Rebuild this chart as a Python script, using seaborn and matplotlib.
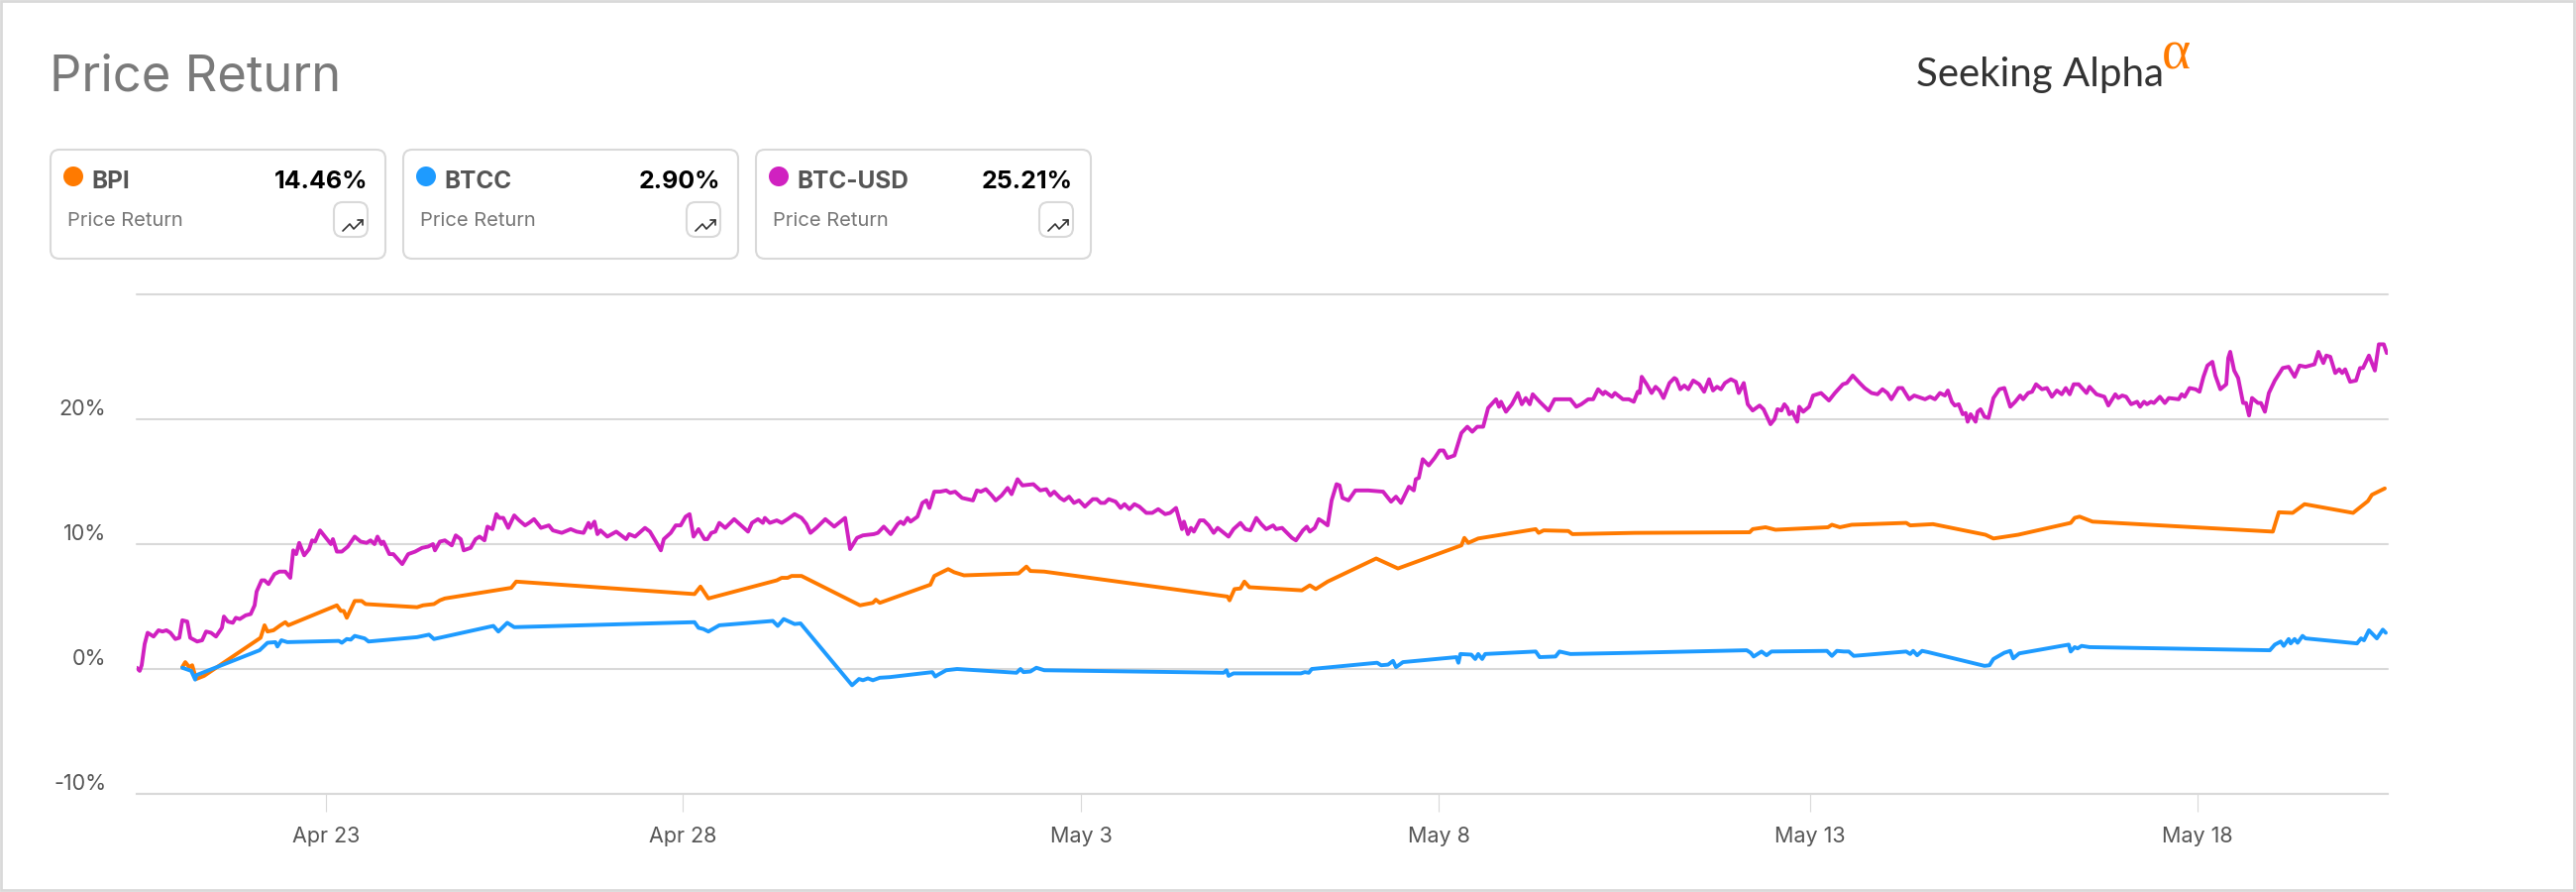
import matplotlib
matplotlib.use("Agg")
import matplotlib.pyplot as plt
from matplotlib.patches import FancyBboxPatch, Circle, Rectangle
from matplotlib.transforms import ScaledTranslation
import pandas as pd
import seaborn as sns

# --------------------- Data ---------------------
# x is a session scale, the chart squeezes some calendar days
TICK_POS = [19.1, 55.1, 95.3, 131.4, 168.9, 208.0]
TICK_LABELS = ["Apr 23", "Apr 28", "May 3", "May 8", "May 13", "May 18"]
Y_TICKS = [-10, 0, 10, 20, 30]
Y_LABELS = ["-10%", "0%", "10%", "20%", ""]

btc_t = [0.0, 0.3, 0.5, 0.8, 1.1, 1.7, 2.2, 2.6, 3.0, 3.4, 3.9, 4.3, 4.6, 5.1, 5.4, 6.1, 6.6, 7.0, 7.5, 8.0,
         8.6, 8.8, 9.2, 9.7, 10.0, 10.4, 11.0, 11.5, 11.9, 12.1, 12.6, 12.9, 13.3, 13.9, 14.4, 15.0, 15.5, 15.8, 16.1, 16.4,
         16.9, 17.4, 17.7, 18.0, 18.5, 19.2, 19.6, 19.8, 20.2, 20.7, 21.3, 22.0, 22.6, 23.2, 23.6, 24.0, 24.3, 24.7, 24.9, 25.5,
         25.9, 26.8, 27.4, 28.1, 28.8, 29.4, 29.9, 30.1, 30.6, 31.1, 31.8, 32.2, 32.7, 33.0, 33.7, 34.2, 34.6, 35.1, 35.4, 35.9,
         36.3, 36.6, 37.0, 37.5, 38.1, 38.6, 39.2, 39.6, 40.1, 40.8, 41.6, 42.0, 42.9, 43.8, 44.4, 45.1, 45.6, 45.8, 46.2, 46.5,
         46.8, 47.5, 48.4, 49.4, 49.7, 50.3, 51.3, 51.8, 52.4, 52.9, 53.2, 53.9, 54.4, 54.9, 55.4, 55.8, 56.2, 56.7, 57.3, 57.6,
         58.0, 58.4, 58.8, 59.4, 60.3, 61.0, 61.7, 62.1, 62.7, 63.2, 63.4, 63.9, 64.6, 65.1, 65.7, 66.4, 67.1, 67.6, 68.0, 68.6,
         69.5, 70.4, 71.5, 72.0, 72.7, 73.3, 74.4, 74.8, 75.4, 76.1, 76.8, 77.1, 77.4, 77.8, 78.1, 78.8, 79.3, 79.7, 80.0, 80.5,
         81.1, 81.7, 82.1, 82.6, 83.3, 84.4, 84.8, 85.2, 85.7, 86.3, 86.7, 87.3, 87.9, 88.3, 88.9, 89.4, 90.5, 91.2, 91.8, 92.2,
         92.6, 93.2, 93.6, 94.1, 94.6, 95.1, 95.7, 96.5, 96.9, 97.3, 97.7, 98.1, 98.8, 99.3, 99.7, 100.2, 100.7, 101.2, 101.9, 102.5,
         103.1, 103.8, 104.3, 104.9, 105.5, 105.7, 106.1, 106.4, 106.7, 107.3, 107.7, 108.2, 108.7, 109.1, 110.2, 110.7, 111.4, 111.9, 112.4, 113.0,
         113.5, 114.0, 114.7, 115.0, 115.6, 116.6, 117.0, 117.7, 118.1, 118.4, 118.9, 119.3, 119.7, 120.2, 120.6, 121.1, 121.4, 121.7, 122.3, 123.0,
         124.3, 125.8, 126.6, 127.1, 127.6, 128.4, 128.9, 129.1, 129.4, 129.8, 130.4, 131.0, 131.5, 131.9, 132.3, 133.0, 133.7, 134.3, 134.8, 135.3,
         135.9, 136.4, 137.2, 137.5, 137.7, 138.2, 138.8, 139.4, 139.8, 140.2, 140.6, 140.9, 141.6, 142.5, 143.1, 144.7, 145.3, 145.8, 146.5, 147.0,
         147.5, 148.0, 148.2, 148.9, 149.2, 150.0, 150.6, 151.1, 151.5, 151.7, 151.9, 152.4, 152.9, 153.3, 153.7, 154.1, 154.7, 155.2, 155.4, 155.8,
         156.2, 156.6, 157.1, 157.7, 158.2, 158.7, 159.1, 159.5, 159.9, 160.3, 160.9, 161.4, 161.7, 162.2, 162.6, 163.1, 163.8, 164.2, 164.9, 165.3,
         165.6, 166.0, 166.3, 166.6, 166.8, 167.1, 167.6, 167.8, 168.2, 168.8, 169.2, 170.0, 170.8, 171.4, 172.2, 172.6, 173.2, 173.9, 174.4, 175.1,
         175.7, 176.2, 176.7, 177.1, 177.8, 178.2, 178.9, 179.4, 180.5, 181.0, 181.5, 182.0, 182.5, 182.8, 183.2, 183.5, 183.9, 184.3, 184.6, 184.8,
         185.1, 185.6, 185.8, 186.1, 186.5, 186.9, 187.4, 188.0, 188.5, 189.1, 189.6, 190.1, 190.4, 190.9, 191.3, 191.7, 192.3, 192.8, 193.3, 193.8,
         194.3, 194.7, 195.1, 195.5, 196.0, 196.8, 197.1, 197.8, 198.6, 199.0, 199.7, 200.0, 200.4, 200.8, 201.3, 201.9, 202.2, 202.6, 202.9, 203.3,
         203.6, 204.2, 204.7, 205.1, 206.1, 206.4, 206.7, 207.2, 207.8, 208.2, 208.6, 209.0, 209.5, 209.8, 210.3, 210.9, 211.1, 211.3, 211.7, 212.1,
         212.6, 212.9, 213.2, 213.5, 214.1, 214.4, 214.8, 215.2, 215.8, 216.6, 217.2, 217.8, 218.3, 218.9, 219.8, 220.2, 220.7, 221.0, 221.4, 221.9,
         222.3, 222.6, 222.9, 223.4, 224.0, 224.4, 224.7, 225.3, 225.9, 226.3, 226.8, 227.1]
btc_v = [0.1, -0.15, 0.3, 2.0, 2.9, 2.6, 3.1, 3.0, 3.1, 2.9, 2.4, 2.5, 3.9, 3.8, 2.5, 2.2, 2.3, 3.0, 2.9, 2.6,
         3.3, 4.2, 3.8, 3.7, 4.1, 4.0, 4.3, 4.4, 5.1, 6.2, 7.1, 7.1, 6.8, 7.6, 7.8, 7.8, 7.3, 9.5, 9.2, 10.1,
         9.1, 9.6, 10.3, 10.2, 11.1, 10.4, 10.0, 10.4, 9.4, 9.4, 9.8, 10.6, 10.2, 10.1, 10.3, 10.0, 10.6, 10.0, 10.2, 9.2,
         9.2, 8.4, 9.2, 9.4, 9.7, 9.8, 10.0, 9.5, 10.2, 10.3, 9.9, 10.7, 10.4, 9.5, 9.7, 10.4, 10.6, 10.3, 11.4, 11.2,
         12.4, 12.1, 12.1, 11.3, 12.3, 11.9, 11.5, 11.7, 12.0, 11.3, 11.5, 11.1, 10.9, 11.2, 11.0, 10.9, 11.7, 11.3, 11.8, 10.8,
         11.1, 10.6, 11.0, 10.4, 10.8, 10.6, 11.3, 11.0, 10.2, 9.5, 10.4, 10.9, 11.5, 11.5, 12.2, 12.4, 10.6, 11.2, 10.4, 10.4,
         10.9, 11.0, 11.7, 11.3, 12.0, 11.5, 11.0, 11.7, 12.0, 11.7, 12.1, 11.7, 11.9, 11.7, 12.0, 12.4, 12.1, 11.6, 10.9, 11.3,
         12.0, 11.4, 12.1, 9.6, 10.5, 10.7, 10.8, 10.9, 11.4, 10.8, 11.6, 11.8, 11.6, 12.1, 11.8, 12.2, 13.3, 13.5, 12.9, 14.2,
         14.2, 14.3, 14.1, 14.2, 13.7, 13.5, 14.3, 14.2, 14.4, 13.9, 13.5, 13.9, 14.5, 14.0, 15.2, 14.7, 14.8, 14.3, 14.4, 13.9,
         14.2, 13.7, 13.5, 13.8, 13.3, 13.5, 13.0, 13.6, 13.6, 13.3, 13.3, 13.6, 13.4, 12.9, 13.2, 12.8, 13.2, 13.0, 12.5, 12.5,
         12.8, 12.4, 12.5, 12.9, 11.2, 11.8, 10.8, 11.3, 11.0, 11.9, 11.9, 11.5, 10.9, 11.3, 10.6, 11.2, 11.7, 11.2, 11.1, 12.1,
         11.6, 11.2, 11.5, 11.2, 11.3, 10.5, 10.3, 11.1, 11.4, 11.0, 11.3, 12.0, 11.8, 11.5, 13.5, 14.8, 14.7, 13.7, 13.5, 14.3,
         14.3, 14.2, 13.4, 13.8, 13.3, 14.6, 14.3, 15.2, 15.3, 16.8, 16.3, 16.9, 17.5, 17.5, 16.9, 17.1, 18.9, 19.4, 19.0, 19.4,
         19.4, 20.9, 21.6, 21.0, 21.4, 20.6, 21.2, 22.1, 21.2, 21.7, 21.2, 22.0, 21.4, 20.7, 21.6, 21.6, 21.0, 21.2, 21.6, 21.6,
         22.4, 22.0, 22.2, 21.8, 22.1, 21.6, 21.6, 21.4, 22.2, 22.1, 23.4, 22.8, 22.1, 22.6, 22.3, 21.7, 22.9, 23.3, 23.2, 22.4,
         22.7, 22.4, 23.1, 22.8, 22.2, 23.2, 22.3, 22.6, 22.4, 22.9, 23.2, 23.0, 22.1, 22.9, 21.2, 20.7, 21.1, 20.8, 19.6, 20.0,
         20.8, 20.7, 21.2, 20.9, 20.4, 20.6, 19.8, 21.0, 20.6, 21.0, 21.9, 22.1, 21.5, 22.1, 22.8, 22.9, 23.5, 22.9, 22.5, 22.1,
         22.0, 22.4, 22.1, 21.6, 22.5, 22.5, 21.6, 21.9, 21.6, 21.8, 21.6, 22.1, 21.9, 22.3, 21.4, 21.1, 21.2, 20.4, 20.5, 19.8,
         20.4, 19.8, 20.6, 20.8, 20.2, 20.1, 21.7, 22.4, 22.5, 21.0, 21.4, 21.9, 21.6, 22.1, 22.2, 22.8, 22.4, 22.5, 21.8, 22.3,
         22.0, 22.5, 22.0, 22.8, 22.8, 22.1, 22.6, 22.0, 21.8, 21.1, 22.0, 21.7, 21.9, 21.8, 21.2, 21.4, 21.0, 21.4, 21.2, 21.4,
         21.3, 21.8, 21.3, 21.7, 21.6, 22.0, 21.8, 22.5, 22.4, 22.2, 23.4, 24.3, 24.6, 23.5, 22.4, 22.8, 24.9, 25.4, 23.9, 23.3,
         21.3, 21.3, 20.3, 21.7, 21.3, 21.3, 20.6, 22.1, 23.1, 24.1, 24.2, 23.4, 24.3, 24.2, 24.4, 25.4, 24.5, 25.1, 25.0, 23.7,
         24.0, 23.7, 24.0, 23.0, 23.1, 24.1, 24.1, 25.1, 23.9, 26.0, 26.0, 25.3]

bpi_t = [4.6, 4.9, 5.3, 5.6, 6.0, 6.8, 12.5, 12.9, 13.2, 13.8, 14.5, 15.0, 15.3, 20.2, 20.6, 20.9, 21.2, 22.0, 22.7, 23.1,
         28.3, 28.9, 30.0, 30.6, 31.1, 37.8, 38.3, 56.3, 56.9, 57.7, 64.6, 65.1, 65.7, 66.1, 67.1, 73.0, 74.3, 74.6, 75.0, 80.1,
         80.5, 81.9, 82.5, 83.5, 89.0, 89.8, 90.2, 91.6, 110.1, 110.3, 110.8, 111.4, 111.8, 112.3, 117.6, 118.4, 119.0, 120.2, 125.1, 127.3,
         133.7, 134.0, 134.4, 135.4, 141.2, 141.5, 142.0, 144.5, 144.9, 151.2, 162.8, 163.1, 164.4, 165.4, 170.7, 171.1, 171.9, 173.1, 178.6, 179.0,
         181.3, 186.6, 187.4, 189.9, 195.2, 195.6, 196.1, 197.4, 215.6, 216.2, 217.6, 218.8, 223.7, 225.2, 225.6, 226.9]
bpi_v = [0.15, 0.55, 0.15, 0.3, -0.8, -0.55, 2.5, 3.5, 3.0, 3.1, 3.5, 3.75, 3.5, 5.1, 4.65, 4.65, 4.1, 5.45, 5.45, 5.2,
         4.95, 5.1, 5.2, 5.5, 5.65, 6.5, 7.0, 6.0, 6.6, 5.65, 7.1, 7.3, 7.3, 7.45, 7.45, 5.1, 5.3, 5.55, 5.3, 6.75,
         7.45, 8.0, 7.75, 7.5, 7.65, 8.2, 7.85, 7.8, 5.8, 5.5, 6.4, 6.45, 7.0, 6.55, 6.3, 6.7, 6.4, 7.0, 8.85, 8.05,
         9.9, 10.5, 10.1, 10.45, 11.2, 10.9, 11.1, 11.05, 10.8, 10.9, 10.95, 11.2, 11.35, 11.15, 11.35, 11.55, 11.35, 11.55, 11.7, 11.5,
         11.6, 10.75, 10.45, 10.75, 11.7, 12.1, 12.2, 11.8, 11.0, 12.55, 12.5, 13.2, 12.5, 13.45, 13.95, 14.46]

btcc_t = [4.6, 5.5, 5.9, 6.0, 12.4, 13.2, 14.0, 14.2, 14.6, 15.2, 20.4, 20.7, 21.2, 21.6, 22.0, 23.0, 23.4, 28.3, 29.5, 30.0,
          36.0, 36.5, 37.4, 38.1, 56.3, 56.7, 57.2, 57.7, 58.8, 64.2, 64.7, 65.3, 66.4, 67.0, 72.2, 72.9, 73.3, 73.8, 74.3, 75.0,
          76.0, 80.3, 80.6, 80.9, 81.7, 82.8, 88.8, 89.2, 89.5, 90.2, 90.8, 91.6, 109.7, 110.0, 110.2, 110.7, 117.5, 117.9, 118.3, 118.6,
          125.2, 125.6, 126.3, 126.8, 127.1, 127.8, 133.2, 133.4, 133.6, 134.7, 135.1, 135.4, 135.8, 136.1, 141.2, 141.6, 143.2, 143.6, 144.7, 151.2,
          162.5, 162.9, 163.2, 164.0, 164.5, 165.0, 170.6, 171.1, 171.6, 172.3, 172.8, 173.3, 178.6, 179.0, 179.3, 179.7, 180.2, 180.8, 186.5, 187.0,
          187.4, 188.5, 189.1, 189.4, 190.0, 195.0, 195.2, 195.6, 195.9, 196.3, 197.1, 215.3, 215.8, 216.4, 216.7, 217.2, 217.4, 217.8, 218.1, 218.6,
          218.9, 224.1, 224.5, 224.8, 225.3, 226.1, 226.7, 227.0]
btcc_v = [0.1, -0.15, -0.85, -0.5, 1.5, 2.1, 2.15, 1.8, 2.3, 2.15, 2.25, 2.1, 2.4, 2.35, 2.65, 2.45, 2.2, 2.55, 2.75, 2.4,
          3.45, 3.0, 3.7, 3.35, 3.75, 3.3, 3.2, 3.0, 3.5, 3.85, 3.45, 4.0, 3.6, 3.65, -1.3, -0.8, -0.9, -0.75, -0.9, -0.7,
          -0.65, -0.25, -0.6, -0.45, -0.1, 0.0, -0.3, 0.0, -0.25, -0.2, 0.1, -0.1, -0.3, -0.1, -0.55, -0.35, -0.35, -0.25, -0.3, 0.0,
          0.5, 0.3, 0.35, 0.65, 0.15, 0.55, 0.95, 0.5, 1.2, 1.15, 0.8, 1.2, 0.8, 1.2, 1.4, 0.95, 1.0, 1.4, 1.2, 1.3,
          1.5, 1.3, 1.0, 1.4, 1.1, 1.4, 1.45, 1.05, 1.45, 1.4, 1.4, 1.05, 1.4, 1.2, 1.45, 1.1, 1.45, 1.35, 0.25, 0.3,
          0.8, 1.3, 1.45, 0.85, 1.25, 1.95, 1.4, 1.75, 1.65, 1.85, 1.75, 1.5, 1.95, 2.2, 1.85, 2.4, 2.05, 2.4, 2.1, 2.65,
          2.45, 2.05, 2.45, 2.3, 3.1, 2.45, 3.15, 2.9]

card_names = ["BPI", "BTCC", "BTC-USD"]
card_values = ["14.46%", "2.90%", "25.21%"]

# --------------------- Style ---------------------
ORANGE = "#FF7A00"
BLUE = "#1E9BFF"
MAGENTA = "#D021C0"
GRID = "#D9D9D9"
FONT = ["Inter", "DejaVu Sans"]

sns.set_theme(style="white")
plt.rcParams["font.family"] = FONT

fig = plt.figure(figsize=(26, 9), dpi=100, facecolor="white")
ax = fig.add_axes([138 / 2600, 1 - 801 / 900, (2410 - 138) / 2600, (801 - 297) / 900])

# --------------------- Lines ---------------------
for t, v, name, color in [(btc_t, btc_v, "BTC-USD", MAGENTA),
                          (bpi_t, bpi_v, "BPI", ORANGE),
                          (btcc_t, btcc_v, "BTCC", BLUE)]:
    df = pd.DataFrame({"t": t, "value": v})
    sns.lineplot(data=df, x="t", y="value", color=color, linewidth=2.8, estimator=None,
                 sort=False, ax=ax, solid_joinstyle="round")

ax.set_xlim(0, 227.2)
ax.set_ylim(-10, 30)
ax.set_xlabel("")
ax.set_ylabel("")
for side in ["top", "right", "left"]:
    ax.spines[side].set_visible(False)
ax.spines["bottom"].set_color(GRID)
ax.spines["bottom"].set_linewidth(1.5)
ax.set_axisbelow(True)
ax.grid(axis="y", color=GRID, linewidth=1.5)
ax.grid(axis="x", visible=False)

ax.set_xticks(TICK_POS)
ax.set_xticklabels(TICK_LABELS)
ax.set_yticks(Y_TICKS)
ax.set_yticklabels(Y_LABELS)
ax.tick_params(axis="x", length=13, width=0.8, color=GRID, pad=11, labelsize=15.5, labelcolor="#555555", bottom=True)
ax.tick_params(axis="y", length=0, pad=22, labelsize=15.5, labelcolor="#555555")
# top grid line sits on the axes edge, do not clip it
for line in ax.get_ygridlines():
    line.set_clip_on(False)
# y labels sit above their grid line
shift = ScaledTranslation(0, 12 / 100, fig.dpi_scale_trans)
for lab in ax.get_yticklabels():
    lab.set_transform(lab.get_transform() + shift)

# --------------------- Header and cards, in reference pixels ---------------------
over = fig.add_axes([0, 0, 1, 1], zorder=5)
over.set_xlim(0, 2600)
over.set_ylim(900, 0)
over.axis("off")
over.patch.set_alpha(0)

over.add_patch(Rectangle((1, 1), 2597, 897, fill=False, edgecolor=GRID, linewidth=2))
over.text(50, 92, "Price Return", fontsize=36.5, color="#7A7A7A", va="baseline", ha="left")

over.text(1934, 87, "Seeking Alpha", fontsize=29, color="#333333", va="baseline", ha="left",
          family=["Lato", "DejaVu Sans"])
over.text(2182, 69, "α", fontsize=40, color=ORANGE, va="baseline", ha="left",
          family=["Liberation Serif", "DejaVu Sans"])

for i, (name, value, color) in enumerate(zip(card_names, card_values, [ORANGE, BLUE, MAGENTA])):
    dx = i * 356
    over.add_patch(FancyBboxPatch((51 + dx, 151), 338, 110, boxstyle="round,pad=0,rounding_size=9",
                                  facecolor="white", edgecolor=GRID, linewidth=1.5))
    over.add_patch(Circle((74 + dx, 178), 10, color=color, linewidth=0))
    over.text(92 + dx, 190, name, fontsize=17.5, fontweight="bold", color="#555555", va="baseline")
    over.text(371 + dx, 190, value, fontsize=18, fontweight="bold", color="black", va="baseline", ha="right")
    over.text(68 + dx, 228, "Price Return", fontsize=14.5, color="#777777", va="baseline")
    over.add_patch(FancyBboxPatch((337 + dx, 204), 34, 35, boxstyle="round,pad=0,rounding_size=9",
                                  facecolor="white", edgecolor=GRID, linewidth=1.5))
    over.plot([346 + dx, 353 + dx, 357 + dx, 366 + dx], [233, 226, 231, 222], color="#333333", linewidth=1.2)
    over.plot([361 + dx, 366 + dx, 366 + dx], [222, 222, 227], color="#333333", linewidth=1.2)

fig.savefig("out.png", dpi=100, facecolor="white")
